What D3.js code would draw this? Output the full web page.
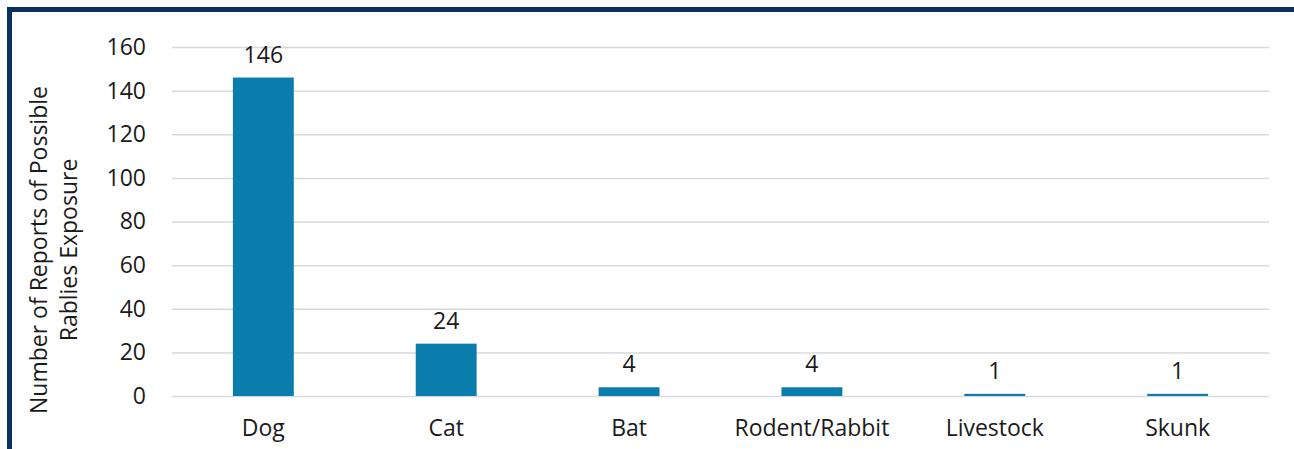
<!DOCTYPE html>
<html><head><meta charset="utf-8">
<script src="https://cdn.jsdelivr.net/npm/d3@7"></script>
<style>html,body{margin:0;padding:0;background:#fff;}svg{display:block;}</style>
</head><body>
<svg id="chart" width="1294" height="449"></svg>
<script>
const categories = ["Dog","Cat","Bat","Rodent/Rabbit","Livestock","Skunk"];
const values = [146,24,4,4,1,1];
const yTicks = [0,20,40,60,80,100,120,140,160];
const yTitleLines = ["Number of Reports of Possible","Rablies Exposure"];

const svg = d3.select("#chart");
const font = "'Open Sans', 'Noto Sans', sans-serif";
const fs = 23;
const textCol = "#1a1a1a";
const mLeft = 172, mRight = 1269, mTop = 47, mBottom = 396;

// border
svg.append("path").attr("d","M9.5,449 L9.5,9.5 L1294,9.5")
  .attr("fill","none").attr("stroke","#0b3161").attr("stroke-width",5);

const x = d3.scaleBand().domain(categories).range([mLeft,mRight]).paddingInner(0.667).paddingOuter(0.333);
const y = d3.scaleLinear().domain([0,160]).range([mBottom,mTop]);

const yAxis = d3.axisLeft(y).tickValues(yTicks).tickSize(-(mRight-mLeft)).tickPadding(26);
const gy = svg.append("g").attr("transform",`translate(${mLeft},0)`).call(yAxis);
gy.select(".domain").remove();
gy.selectAll(".tick line").attr("stroke","#d9d9d9").attr("stroke-width",1.5);
gy.selectAll(".tick text").attr("font-family",font).attr("font-size",fs).attr("fill",textCol);

svg.append("g").selectAll("rect").data(values).join("rect")
  .attr("x",(d,i)=>x(categories[i])).attr("width",x.bandwidth())
  .attr("y",d=>y(d)).attr("height",d=>Math.max(1.5,y(0)-y(d)))
  .attr("fill","#0b7dac");

svg.append("g").selectAll("text").data(values).join("text")
  .attr("x",(d,i)=>x(categories[i])+x.bandwidth()/2).attr("y",d=>y(d)-15)
  .attr("text-anchor","middle").attr("font-family",font).attr("font-size",fs).attr("fill",textCol)
  .text(d=>d);

const xAxis = d3.axisBottom(x).tickSize(0).tickPadding(24);
const gx = svg.append("g").attr("transform",`translate(0,${mBottom})`).call(xAxis);
gx.select(".domain").remove();
gx.selectAll(".tick text").attr("font-family",font).attr("font-size",fs).attr("fill",textCol);

const t = svg.append("text").attr("transform","translate(47,250) rotate(-90)")
  .attr("text-anchor","middle").attr("font-family",font).attr("font-size",fs).attr("fill",textCol);
yTitleLines.forEach((l,i)=>t.append("tspan").attr("x",0).attr("dy",i===0?0:30).text(l));
</script>
</body></html>
